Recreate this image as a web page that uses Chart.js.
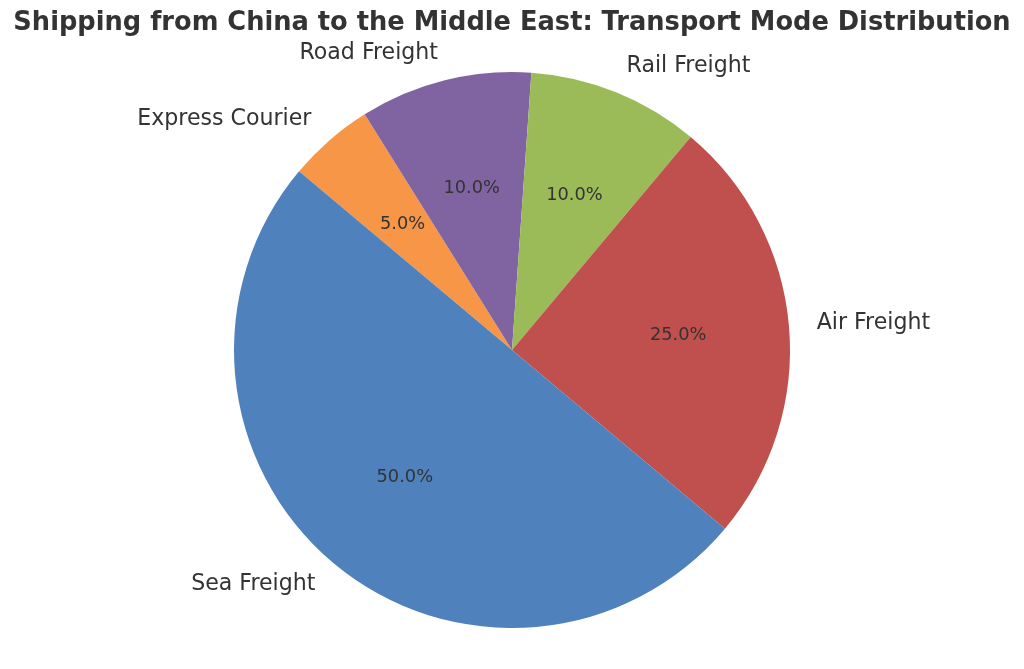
<!DOCTYPE html>
<html>
<head>
<meta charset="utf-8">
<script src="https://cdn.jsdelivr.net/npm/chart.js@4"></script>
<style>
  html, body { margin: 0; padding: 0; background: #fff; }
  .wrap { width: 1024px; height: 669px; position: relative; }
</style>
</head>
<body>
<div class="wrap"><canvas class="pie-chart"></canvas></div>
<script>
// slices in clockwise drawing order, starting from the upper-left edge
const modes = ['Express Courier', 'Road Freight', 'Rail Freight', 'Air Freight', 'Sea Freight'];
const shares = [5, 10, 10, 25, 50];
const sliceColors = ['#f79646', '#8064a2', '#9bbb59', '#c0504d', '#4f81bd'];

const titleText = 'Shipping from China to the Middle East: Transport Mode Distribution';
const textColor = '#333333';

// draws title, outer labels and percentages like the matplotlib version
const pieText = {
    id: 'pieText',
    afterDraw(chart) {
        const ctx = chart.ctx;
        const meta = chart.getDatasetMeta(0);
        const total = shares.reduce((a, b) => a + b, 0);

        ctx.save();
        ctx.fillStyle = textColor;
        ctx.font = 'bold 25.7px "DejaVu Sans"';
        ctx.textAlign = 'center';
        ctx.textBaseline = 'middle';
        ctx.fillText(titleText, chart.width / 2, 23);

        meta.data.forEach((arc, i) => {
            const p = arc.getProps(['x', 'y', 'startAngle', 'endAngle', 'outerRadius'], true);
            const mid = (p.startAngle + p.endAngle) / 2;
            const cx = Math.cos(mid), cy = Math.sin(mid);

            ctx.font = '22.1px "DejaVu Sans"';
            ctx.textAlign = cx >= 0 ? 'left' : 'right';
            ctx.fillText(modes[i], p.x + cx * p.outerRadius * 1.1, p.y + cy * p.outerRadius * 1.1);

            ctx.font = '17.8px "DejaVu Sans"';
            ctx.textAlign = 'center';
            const pct = (shares[i] / total * 100).toFixed(1) + '%';
            ctx.fillText(pct, p.x + cx * p.outerRadius * 0.6, p.y + cy * p.outerRadius * 0.6);
        });
        ctx.restore();
    }
};

new Chart(document.querySelector('.pie-chart'), {
    type: 'pie',
    data: {
        labels: modes,
        datasets: [{
            data: shares,
            backgroundColor: sliceColors,
            borderWidth: 0
        }]
    },
    options: {
        responsive: true,
        maintainAspectRatio: false,
        animation: false,
        rotation: -50,
        layout: { padding: { top: 72, bottom: 41, left: 0, right: 0 } },
        plugins: {
            legend: { display: false },
            tooltip: { enabled: false },
            title: { display: false }
        }
    },
    plugins: [pieText]
});
</script>
</body>
</html>
